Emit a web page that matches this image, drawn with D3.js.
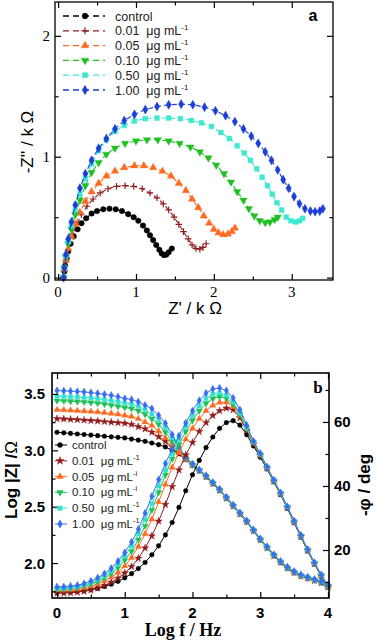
<!DOCTYPE html>
<html>
<head>
<meta charset="utf-8">
<script src="https://cdn.jsdelivr.net/npm/d3@7"></script>
<style>
  body { margin: 0; background: #fff; }
  svg { display: block; }
  text { white-space: pre; }
</style>
</head>
<body>
<svg id="chart" width="376" height="644"></svg>
<script>
// ---- panel a: Nyquist, [Z', -Z''] in kOhm ----
var nyqControl = [[0.07,0],[0.08,0.05],[0.09,0.1],[0.11,0.16],[0.13,0.22],[0.16,0.28],[0.2,0.34],[0.25,0.4],[0.3,0.45],[0.36,0.49],[0.43,0.53],[0.5,0.55],[0.58,0.565],[0.66,0.57],[0.74,0.565],[0.82,0.55],[0.9,0.525],[0.97,0.5],[1.03,0.47],[1.09,0.43],[1.14,0.39],[1.18,0.35],[1.22,0.31],[1.26,0.27],[1.3,0.23],[1.33,0.2],[1.36,0.185],[1.39,0.19],[1.42,0.21],[1.46,0.24]];
var nyq001 = [[0.07,0],[0.08,0.06],[0.1,0.13],[0.12,0.2],[0.15,0.28],[0.19,0.36],[0.24,0.44],[0.3,0.52],[0.37,0.59],[0.45,0.65],[0.54,0.7],[0.64,0.735],[0.75,0.755],[0.86,0.76],[0.97,0.755],[1.08,0.735],[1.18,0.7],[1.27,0.66],[1.35,0.61],[1.42,0.56],[1.49,0.5],[1.55,0.44],[1.61,0.38],[1.67,0.32],[1.72,0.27],[1.77,0.24],[1.82,0.235],[1.86,0.25],[1.9,0.28]];
var nyq005 = [[0.07,0],[0.08,0.07],[0.1,0.15],[0.13,0.24],[0.17,0.34],[0.22,0.44],[0.28,0.54],[0.35,0.63],[0.43,0.71],[0.52,0.78],[0.62,0.84],[0.73,0.88],[0.85,0.91],[0.98,0.925],[1.1,0.925],[1.22,0.91],[1.34,0.88],[1.45,0.84],[1.55,0.78],[1.64,0.72],[1.72,0.65],[1.8,0.58],[1.87,0.51],[1.94,0.45],[2.0,0.4],[2.06,0.37],[2.12,0.355],[2.18,0.36],[2.23,0.38],[2.27,0.41]];
var nyq010 = [[0.07,0],[0.08,0.08],[0.1,0.17],[0.13,0.28],[0.17,0.4],[0.22,0.52],[0.28,0.64],[0.35,0.76],[0.43,0.87],[0.52,0.95],[0.62,1.02],[0.73,1.07],[0.86,1.11],[1.0,1.13],[1.14,1.14],[1.28,1.14],[1.42,1.13],[1.56,1.11],[1.7,1.08],[1.82,1.04],[1.93,0.99],[2.03,0.93],[2.13,0.86],[2.22,0.79],[2.3,0.71],[2.38,0.64],[2.45,0.57],[2.52,0.51],[2.59,0.47],[2.66,0.455],[2.72,0.46],[2.78,0.48],[2.82,0.5]];
var nyq050 = [[0.07,0],[0.08,0.08],[0.1,0.18],[0.13,0.3],[0.17,0.43],[0.22,0.56],[0.28,0.69],[0.35,0.82],[0.43,0.94],[0.52,1.05],[0.62,1.14],[0.73,1.21],[0.85,1.26],[0.98,1.295],[1.12,1.315],[1.27,1.32],[1.42,1.32],[1.57,1.315],[1.71,1.3],[1.84,1.28],[1.97,1.25],[2.09,1.2],[2.2,1.15],[2.3,1.09],[2.39,1.03],[2.47,0.97],[2.55,0.9],[2.62,0.83],[2.69,0.76],[2.75,0.69],[2.81,0.62],[2.87,0.56],[2.93,0.5],[2.99,0.47],[3.05,0.46],[3.1,0.47],[3.14,0.49]];
var nyq100 = [[0.07,0],[0.08,0.08],[0.1,0.19],[0.13,0.32],[0.17,0.46],[0.22,0.6],[0.28,0.74],[0.35,0.86],[0.43,0.97],[0.52,1.07],[0.62,1.15],[0.73,1.23],[0.85,1.3],[0.98,1.35],[1.12,1.39],[1.27,1.415],[1.42,1.43],[1.58,1.435],[1.73,1.43],[1.88,1.41],[2.02,1.38],[2.15,1.34],[2.27,1.29],[2.38,1.23],[2.48,1.17],[2.57,1.11],[2.66,1.04],[2.74,0.97],[2.82,0.89],[2.89,0.81],[2.96,0.74],[3.03,0.67],[3.1,0.61],[3.17,0.57],[3.24,0.55],[3.3,0.545],[3.36,0.55],[3.4,0.57]];

// ---- panel b: Bode ----
var logF = [0,0.1,0.2,0.3,0.4,0.5,0.6,0.7,0.8,0.9,1.0,1.1,1.2,1.3,1.4,1.5,1.6,1.7,1.8,1.9,2.0,2.1,2.2,2.3,2.4,2.5,2.6,2.7,2.8,2.9,3.0,3.1,3.2,3.3,3.4,3.5,3.6,3.7,3.8,3.9,4.0];

var logZControl = [3.16,3.155,3.15,3.145,3.14,3.135,3.13,3.125,3.12,3.115,3.11,3.10,3.09,3.08,3.065,3.05,3.03,3.00,2.97,2.92,2.87,2.82,2.77,2.71,2.65,2.58,2.51,2.44,2.37,2.29,2.21,2.14,2.07,2.01,1.96,1.92,1.89,1.87,1.85,1.83,1.80];
var logZ001 = [3.28,3.278,3.275,3.272,3.268,3.264,3.26,3.255,3.25,3.245,3.24,3.23,3.21,3.19,3.16,3.12,3.08,3.03,2.97,2.92,2.87,2.82,2.765,2.705,2.645,2.575,2.505,2.435,2.365,2.285,2.205,2.135,2.065,2.005,1.955,1.915,1.885,1.865,1.845,1.825,1.795];
var logZ005 = [3.36,3.358,3.355,3.352,3.348,3.344,3.34,3.334,3.327,3.32,3.31,3.30,3.28,3.25,3.22,3.17,3.11,3.05,2.98,2.92,2.87,2.825,2.772,2.712,2.652,2.582,2.512,2.442,2.372,2.292,2.212,2.142,2.072,2.012,1.962,1.922,1.892,1.872,1.852,1.832,1.802];
var logZ010 = [3.44,3.438,3.435,3.432,3.428,3.424,3.418,3.41,3.40,3.39,3.38,3.37,3.35,3.32,3.28,3.23,3.16,3.08,3.00,2.93,2.87,2.822,2.768,2.708,2.648,2.578,2.508,2.438,2.368,2.288,2.208,2.138,2.068,2.008,1.958,1.918,1.888,1.868,1.848,1.828,1.798];
var logZ050 = [3.48,3.478,3.475,3.472,3.468,3.464,3.458,3.45,3.44,3.43,3.42,3.41,3.39,3.36,3.32,3.27,3.20,3.11,3.02,2.94,2.88,2.826,2.774,2.714,2.654,2.584,2.514,2.444,2.374,2.294,2.214,2.144,2.074,2.014,1.964,1.924,1.894,1.874,1.854,1.834,1.804];
var logZ100 = [3.53,3.528,3.525,3.522,3.518,3.512,3.505,3.497,3.488,3.475,3.46,3.45,3.43,3.40,3.37,3.31,3.24,3.14,3.03,2.94,2.88,2.828,2.776,2.716,2.656,2.586,2.516,2.446,2.376,2.296,2.216,2.146,2.076,2.016,1.966,1.926,1.896,1.876,1.856,1.836,1.806];

var phaseControl = [7,7,7,7.1,7.3,7.6,8,8.6,9.3,10.2,11.3,12.6,14.2,16.1,18.5,21.3,24.7,28.6,33.3,38.5,43.5,48,52,55.3,58,59.8,60.4,59,56,52.5,49,45.3,41.3,37.3,33,28.5,24,19.7,15.6,11.8,8.5];
var phase001 = [6.5,6.5,6.6,6.8,7.1,7.5,8.1,8.9,9.9,11.2,12.8,14.8,17.4,20.6,24.4,29,34.2,39.8,45,49.7,53.6,57,59.8,62,63.5,64.3,63.8,61.3,57.3,53.2,49.5,45.6,41.5,37.5,33.2,28.7,24.2,19.8,15.7,11.9,8.4];
var phase005 = [7.5,7.5,7.6,7.8,8.2,8.7,9.4,10.3,11.5,13,15,17.6,21,25,29.6,35,40.5,45.8,50.5,54.6,58,61,63.5,65.2,66.1,66.2,64.8,62,57.8,53.5,49.7,45.7,41.6,37.6,33.3,28.8,24.3,19.9,15.8,12,8.6];
var phase010 = [7.8,7.8,8,8.3,8.7,9.3,10.1,11.2,12.6,14.5,16.8,19.6,23.2,27.5,32.5,38,43.5,48.5,53,57,60.5,63.5,65.8,67.3,67.9,67.4,65.6,62.4,58,53.7,49.8,45.8,41.7,37.7,33.4,28.9,24.4,20,15.9,12.1,8.7];
var phase050 = [8,8,8.2,8.5,9,9.7,10.6,11.8,13.4,15.5,18,21.2,25,29.5,34.5,40,45,50,54.5,58.5,62,65,67.3,68.7,69,68.3,66.2,62.8,58.3,53.8,50,45.9,41.8,37.8,33.5,29,24.5,20.1,16,12.2,8.8];
var phase100 = [8.5,8.5,8.7,9,9.5,10.3,11.3,12.6,14.3,16.5,19.2,22.5,26.5,31.5,36.8,42,47,51.5,55.7,59.7,63.5,66.7,69,70.3,70.6,69.8,67.5,63.8,59,54,50.2,46,41.9,37.9,33.6,29.1,24.6,20.2,16.1,12.3,9];

var seriesLabels = ["control", "0.01  \u03bcg mL", "0.05  \u03bcg mL", "0.10  \u03bcg mL", "0.50  \u03bcg mL", "1.00  \u03bcg mL"];
var supA = ["", "-1", "-1", "-1", "-1", "-1"];
var supB = ["", "-1", "-i", "-i", "-1", "-1"];
var colorsA = ["#000000", "#8e1b1b", "#ff6a20", "#20c020", "#3ee8d0", "#1b3ed6"];
var colorsB = ["#000000", "#901a1a", "#ff6a20", "#1fbf55", "#30e4cc", "#3a6cf2"];
var symbolsA = ["circle", "plus", "triUp", "triDown", "square", "diamond"];
var symbolsB = ["circle", "star", "triUp", "triDown", "square", "diamond"];

var nyqSeries = [nyqControl, nyq001, nyq005, nyq010, nyq050, nyq100];
var zSeries = [logZControl, logZ001, logZ005, logZ010, logZ050, logZ100];
var phSeries = [phaseControl, phase001, phase005, phase010, phase050, phase100];

var svg = d3.select("#chart");
var sans = "'Liberation Sans', Arial, sans-serif",
    serif = "'Liberation Serif', 'Times New Roman', serif";

function symbolPath(kind, size) {
  if (kind == "plus") {
    var r = Math.sqrt(size) * 0.7;
    return "M" + (-r) + ",0H" + r + "M0," + (-r) + "V" + r;
  }
  var types = {circle: d3.symbolCircle, triUp: d3.symbolTriangle, triDown: d3.symbolTriangle,
               square: d3.symbolSquare, diamond: d3.symbolDiamond, star: d3.symbolStar};
  return d3.symbol().type(types[kind]).size(size)();
}

function drawMarker(g, kind, size, color, x, y) {
  var rot = kind == "triDown" ? " rotate(180)" : "";
  g.append("path")
    .attr("d", symbolPath(kind, size))
    .attr("transform", "translate(" + x + "," + y + ")" + rot)
    .attr("fill", kind == "plus" ? "none" : color)
    .attr("stroke", color)
    .attr("stroke-width", kind == "plus" ? 1.2 : 0.4);
}

// generic inward ticks on a frame
function ticks(g, axisFn, scale, values, size, transform) {
  g.append("g")
    .attr("transform", transform)
    .call(axisFn(scale).tickValues(values).tickSize(-size).tickFormat(""))
    .call(function(s) { s.select(".domain").remove(); s.selectAll("line").attr("stroke-width", 1.2); });
}

// ================= panel a =================
var xA = d3.scaleLinear().domain([-0.04, 3.53]).range([55, 333]),
    yA = d3.scaleLinear().domain([-0.02, 2.28]).range([280, 2]);

var gA = svg.append("g");

nyqSeries.forEach(function(data, i) {
  var line = d3.line().x(function(d) { return xA(d[0]); }).y(function(d) { return yA(d[1]); });
  gA.append("path").datum(data)
    .attr("d", line)
    .attr("fill", "none")
    .attr("stroke", colorsA[i])
    .attr("stroke-width", 1.1)
    .attr("stroke-dasharray", "5,3");
  data.forEach(function(d) {
    drawMarker(gA, symbolsA[i], symbolsA[i] == "plus" ? 22 : 24, colorsA[i], xA(d[0]), yA(d[1]));
  });
});

gA.append("rect").attr("x", 55).attr("y", 2).attr("width", 278).attr("height", 278)
  .attr("fill", "none").attr("stroke", "#000").attr("stroke-width", 1.3);

ticks(gA, d3.axisBottom, xA, [0, 1, 2, 3], 6, "translate(0,280)");
ticks(gA, d3.axisBottom, xA, [0.5, 1.5, 2.5], 3.5, "translate(0,280)");
ticks(gA, d3.axisTop, xA, [0, 1, 2, 3], 6, "translate(0,2)");
ticks(gA, d3.axisTop, xA, [0.5, 1.5, 2.5], 3.5, "translate(0,2)");
ticks(gA, d3.axisLeft, yA, [0, 1, 2], 6, "translate(55,0)");
ticks(gA, d3.axisLeft, yA, [0.5, 1.5], 3.5, "translate(55,0)");
ticks(gA, d3.axisRight, yA, [0, 1, 2], 6, "translate(333,0)");
ticks(gA, d3.axisRight, yA, [0.5, 1.5], 3.5, "translate(333,0)");

[0, 1, 2, 3].forEach(function(v) {
  gA.append("text").attr("x", xA(v)).attr("y", 297).attr("text-anchor", "middle")
    .attr("font-family", serif).attr("font-size", 15).text(v);
});
[0, 1, 2].forEach(function(v) {
  gA.append("text").attr("x", 50).attr("y", yA(v) + 5).attr("text-anchor", "end")
    .attr("font-family", serif).attr("font-size", 15).text(v);
});

gA.append("text").attr("x", 195).attr("y", 314).attr("text-anchor", "middle")
  .attr("font-family", sans).attr("font-size", 17).text("Z' / k \u03a9");
gA.append("text").attr("transform", "translate(33,142) rotate(-90)").attr("text-anchor", "middle")
  .attr("font-family", sans).attr("font-size", 17).text("-Z'' / k \u03a9");
gA.append("text").attr("x", 313).attr("y", 21).attr("text-anchor", "middle")
  .attr("font-family", sans).attr("font-weight", "bold").attr("font-size", 16).text("a");

// legend a
var legA = gA.append("g");
seriesLabels.forEach(function(lab, i) {
  var y = 16 + i * 14.8;
  legA.append("line").attr("x1", 63).attr("x2", 105).attr("y1", y).attr("y2", y)
    .attr("stroke", colorsA[i]).attr("stroke-width", 1.3).attr("stroke-dasharray", "6,4");
  drawMarker(legA, symbolsA[i], symbolsA[i] == "plus" ? 26 : 26, colorsA[i], 85, y);
  var t = legA.append("text").attr("x", 115).attr("y", y + 4.5)
    .attr("font-family", sans).attr("font-size", 12.5).attr("fill", "#222");
  t.append("tspan").text(lab);
  if (supA[i]) t.append("tspan").attr("dy", -5).attr("font-size", 8).text(supA[i]);
});

// ================= panel b =================
var xB = d3.scaleLinear().domain([-0.074, 4.015]).range([52, 329]),
    yB = d3.scaleLinear().domain([1.69, 3.686]).range([598, 373]),
    pB = d3.scaleLinear().domain([5, 75.3]).range([598, 373]);

var gB = svg.append("g");

function drawBode(values, scale, i) {
  var line = d3.line().x(function(d, j) { return xB(logF[j]); }).y(function(d) { return scale(d); });
  gB.append("path").datum(values)
    .attr("d", line).attr("fill", "none")
    .attr("stroke", colorsB[i]).attr("stroke-width", 1);
  values.forEach(function(v, j) {
    drawMarker(gB, symbolsB[i], 17, colorsB[i], xB(logF[j]), scale(v));
  });
}

zSeries.forEach(function(vals, i) { drawBode(vals, yB, i); });
phSeries.forEach(function(vals, i) { drawBode(vals, pB, i); });

gB.append("rect").attr("x", 52).attr("y", 373).attr("width", 277).attr("height", 225)
  .attr("fill", "none").attr("stroke", "#000").attr("stroke-width", 1.6);

ticks(gB, d3.axisBottom, xB, [0, 1, 2, 3, 4], 6, "translate(0,598)");
ticks(gB, d3.axisBottom, xB, [0.5, 1.5, 2.5, 3.5], 3.5, "translate(0,598)");
ticks(gB, d3.axisTop, xB, [0, 1, 2, 3, 4], 6, "translate(0,373)");
ticks(gB, d3.axisTop, xB, [0.5, 1.5, 2.5, 3.5], 3.5, "translate(0,373)");
ticks(gB, d3.axisLeft, yB, [2.0, 2.5, 3.0, 3.5], 6, "translate(52,0)");
ticks(gB, d3.axisLeft, yB, [1.75, 2.25, 2.75, 3.25], 3.5, "translate(52,0)");
ticks(gB, d3.axisRight, pB, [20, 40, 60], 6, "translate(329,0)");
ticks(gB, d3.axisRight, pB, [10, 30, 50, 70], 3.5, "translate(329,0)");

[0, 1, 2, 3, 4].forEach(function(v) {
  gB.append("text").attr("x", xB(v)).attr("y", 618).attr("text-anchor", "middle")
    .attr("font-family", sans).attr("font-weight", "bold").attr("font-size", 15).text(v);
});
[2.0, 2.5, 3.0, 3.5].forEach(function(v) {
  gB.append("text").attr("x", 45).attr("y", yB(v) + 5.5).attr("text-anchor", "end")
    .attr("font-family", sans).attr("font-weight", "bold").attr("font-size", 15).text(d3.format(".1f")(v));
});
[20, 40, 60].forEach(function(v) {
  gB.append("text").attr("x", 334).attr("y", pB(v) + 5.5)
    .attr("font-family", sans).attr("font-weight", "bold").attr("font-size", 15).text(v);
});

gB.append("text").attr("x", 183).attr("y", 636).attr("text-anchor", "middle")
  .attr("font-family", serif).attr("font-weight", "bold").attr("font-size", 18).text("Log f / Hz");
var yl = gB.append("text").attr("transform", "translate(17,480) rotate(-90)").attr("text-anchor", "middle")
  .attr("font-family", sans).attr("font-weight", "bold").attr("font-size", 17);
yl.append("tspan").text("Log |Z| /");
yl.append("tspan").attr("font-weight", "normal").text("\u03a9");
gB.append("text").attr("transform", "translate(370,485) rotate(-90)").attr("text-anchor", "middle")
  .attr("font-family", sans).attr("font-weight", "bold").attr("font-size", 17).text("-\u03c6 / deg");
gB.append("text").attr("x", 318).attr("y", 393).attr("text-anchor", "middle")
  .attr("font-family", serif).attr("font-weight", "bold").attr("font-size", 17).text("b");

// legend b
var legB = gB.append("g");
seriesLabels.forEach(function(lab, i) {
  var y = 445 + i * 15.8;
  legB.append("line").attr("x1", 55).attr("x2", 67).attr("y1", y).attr("y2", y)
    .attr("stroke", colorsB[i]).attr("stroke-width", 1);
  drawMarker(legB, symbolsB[i], 20, colorsB[i], 60, y);
  var t = legB.append("text").attr("x", 72).attr("y", y + 4)
    .attr("font-family", sans).attr("font-size", 11.5).attr("fill", "#222");
  t.append("tspan").text(lab);
  if (supB[i]) t.append("tspan").attr("dy", -5).attr("font-size", 7.5).text(supB[i]);
});
</script>
</body>
</html>
